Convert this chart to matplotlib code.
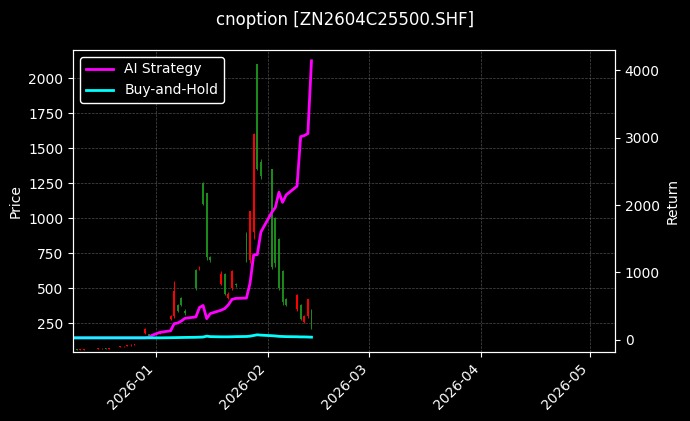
import numpy as np
import pandas as pd
import matplotlib.pyplot as plt
import matplotlib.dates as mdates

# --- data ---
dates = pd.to_datetime(
    ["2025-12-%02d" % d for d in [9, 10, 11, 12, 15, 16, 17, 18, 19, 22, 23, 24, 25, 26, 29, 30, 31]]
    + ["2026-01-%02d" % d for d in [1, 2, 5, 6, 7, 8, 9, 12, 13, 14, 15, 16, 19, 20, 21, 22, 23, 26, 27, 28, 29, 30]]
    + ["2026-02-%02d" % d for d in [2, 3, 4, 5, 6, 9, 10, 11, 12, 13]])

opens = [60, 62, 58, 60, 64, 66, 70, 72, 68, 80, 84, 90, 92, 96, 180, 170, 165,
         170, 180, 280, 300, 380, 430, 340, 630, 640, 1250, 1180, 720, 530, 600, 430, 500, 530, 880, 700, 900, 2100, 1400,
         1350, 1000, 850, 620, 420, 350, 380, 260, 300, 340]
closes = [62, 60, 62, 63, 66, 70, 72, 68, 72, 84, 88, 92, 96, 100, 210, 160, 170,
          175, 185, 300, 480, 340, 380, 320, 500, 650, 1100, 720, 700, 600, 460, 460, 620, 520, 700, 1050, 1600, 1350, 1300,
          650, 680, 500, 400, 380, 450, 280, 300, 420, 220]
highs = [64, 64, 63, 65, 68, 72, 74, 74, 74, 86, 90, 94, 98, 102, 215, 175, 175,
         180, 190, 310, 550, 390, 440, 350, 640, 660, 1260, 1180, 730, 620, 610, 470, 630, 540, 900, 1050, 1610, 2100, 1420,
         1350, 1010, 860, 630, 430, 460, 390, 310, 420, 350]
lows = [58, 58, 56, 58, 62, 64, 68, 66, 66, 78, 82, 88, 90, 94, 175, 155, 160,
        165, 175, 270, 290, 330, 370, 310, 490, 630, 1090, 700, 690, 520, 450, 420, 490, 510, 690, 680, 850, 1340, 1280,
        640, 650, 490, 380, 370, 340, 270, 250, 290, 210]

ai_strategy = [30] * 14 + [30, 40, 70] + [
    90, 110, 135, 240, 250, 280, 320, 340, 480, 510, 315, 390, 440, 465, 520, 600, 615, 620, 840, 1260, 1265, 1600,
    1890, 1965, 2190, 2040, 2150, 2280, 3015, 3030, 3060, 4140]
buy_hold = [30] * 17 + [
    30, 30, 32, 33, 34, 35, 36, 38, 40, 42, 55, 48, 45, 45, 45, 46, 48, 50, 55, 65, 75, 70,
    62, 58, 52, 50, 48, 46, 44, 44, 42, 40]

plt.style.use("dark_background")
fig = plt.figure(figsize=(6.9, 4.21), dpi=100)
ax = fig.add_axes([73 / 690, 1 - 352 / 421, 542 / 690, 302 / 421])
ax2 = ax.twinx()

# candles: red = up, green = down
for d, o, c, h, l in zip(dates, opens, closes, highs, lows):
    col = "red" if c >= o else "#1a8a1a"
    ax.vlines(d, l, h, color=col, linewidth=0.7)
    ax.bar(d, abs(c - o) or 2, bottom=min(o, c), width=0.5, color=col, linewidth=0)

ax2.plot(dates, ai_strategy, color="magenta", linewidth=2, label="AI Strategy")
ax2.plot(dates, buy_hold, color="cyan", linewidth=2, label="Buy-and-Hold")

ax.set_xlim(pd.Timestamp("2025-12-09"), pd.Timestamp("2026-05-08"))
ax.set_ylim(44, 2200)
ax.set_yticks([250, 500, 750, 1000, 1250, 1500, 1750, 2000])
ax2.set_ylim(-180, 4300)
ax2.set_yticks([0, 1000, 2000, 3000, 4000])
ax.xaxis.set_major_locator(mdates.MonthLocator())
ax.xaxis.set_major_formatter(mdates.DateFormatter("%Y-%m"))
plt.setp(ax.get_xticklabels(), rotation=45, ha="right")
ax.grid(True, color="gray", linestyle="--", linewidth=0.5, alpha=0.6)
ax.set_ylabel("Price")
ax2.set_ylabel("Return")
ax2.legend(loc="upper left", facecolor="black", edgecolor="white", framealpha=1)
fig.suptitle("cnoption [ZN2604C25500.SHF]", y=0.975)

fig.savefig("out.png", dpi=100)
